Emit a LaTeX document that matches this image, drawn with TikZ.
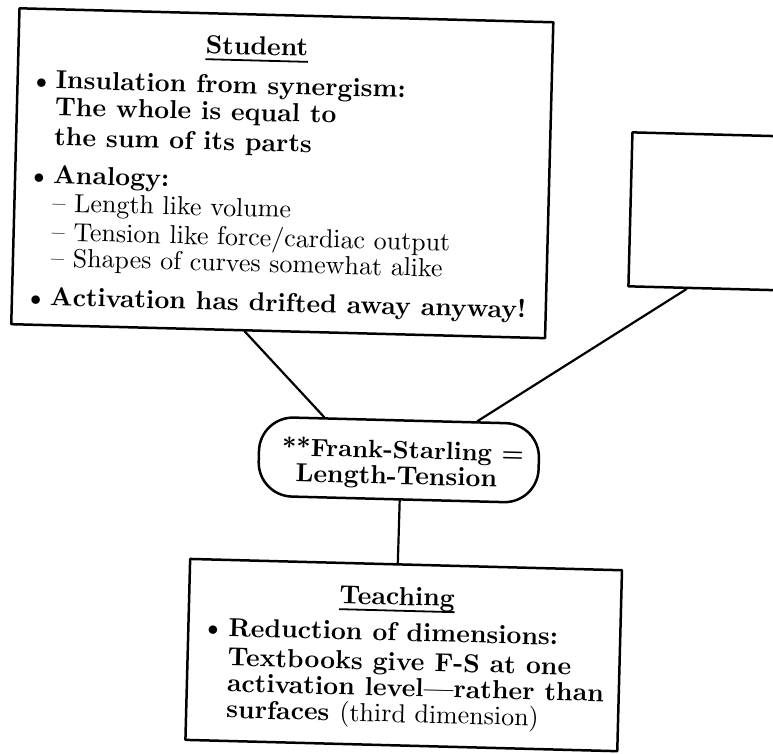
\documentclass[tikz,border=0pt]{standalone}
\usetikzlibrary{calc}

% text faces at the 10pt design size, scaled up
\font\bxfont=cmbx10 at 26pt
\font\bxfontsm=cmbx10 at 25pt
\font\rmfont=cmr10 at 26pt
\font\syfont=cmsy10 at 22pt
\newcommand\itemdot{{\syfont\char"0F}}

% heading with a rule set a fixed distance under the baseline
\newcommand\titleul[1]{\setbox0\hbox{#1}\rlap{\rule[-6.5pt]{\wd0}{1.8pt}}\box0}

\tikzset{
  box/.style={draw, line width=2.5pt, inner sep=0pt},
  link/.style={line width=2.2pt},
  btxt/.style={inner sep=0pt, font=\bxfont},
  rtxt/.style={inner sep=0pt, font=\rmfont},
  bul/.style={inner sep=0pt, anchor=base},
}

\begin{document}
\begin{tikzpicture}[x=1pt, y=-1pt, line join=round, line cap=round]
\useasboundingbox (0,0) rectangle (773,753);
\clip (0,0) rectangle (773,753);
\begin{scope}[rotate around={-1.5:(386,376)}, transform shape]

  % frames
  \node[box, minimum width=534pt, minimum height=316pt] (stu) at (277,176) {};
  \node[box, minimum width=274pt, minimum height=154pt] (aux) at (763,203) {};
  \node[box, rounded corners=34pt, minimum width=280pt, minimum height=79pt] (fs) at (401,459.5) {};
  \node[box, minimum width=432pt, minimum height=181pt] (teach) at (411,654.5) {};

  % student box text
  \node[btxt, anchor=base] (sttl) at (248.5,58.4) {\titleul{Student}};
  \node[bul] (sb1) at (34,97.4) {\itemdot};
  \node[btxt, anchor=base west] (s1) at (48,97.4) {Insulation from synergism:};
  \node[btxt, anchor=base west] (s2) at (48,124.4) {The whole is equal to};
  \node[btxt, anchor=base west] (s3) at (48,154.4) {the sum of its parts};
  \node[bul] (sb2) at (34,192.4) {\itemdot};
  \node[btxt, anchor=base west] (s4) at (48,192.4) {Analogy:};
  \node[rtxt, anchor=base west] (s5) at (48,220.4) {-- Length like volume};
  \node[rtxt, anchor=base west] (s6) at (48,249.4) {-- Tension like force/cardiac output};
  \node[rtxt, anchor=base west] (s7) at (48,275.4) {-- Shapes of curves somewhat alike};
  \node[bul] (sb3) at (34,314.4) {\itemdot};
  \node[btxt, anchor=base west] (s8) at (48,314.4) {Activation has drifted away anyway!};

  % central statement
  \node[btxt, font=\bxfontsm, anchor=base] (f1) at (405,458) {**Frank-Starling =};
  \node[btxt, anchor=base] (f2) at (399,484) {Length-Tension};

  % teaching box text
  \node[btxt, anchor=base] (tttl) at (403,604.7) {\titleul{Teaching}};
  \node[bul] (tb) at (219.7,640.5) {\itemdot};
  \node[btxt, anchor=base west] (t1) at (235,640.5) {Reduction of dimensions:};
  \node[btxt, anchor=base west] (t2) at (235,670) {Textbooks give F-S at one};
  \node[btxt, anchor=base west] (t3) at (235,696) {activation level---rather than};
  \node[btxt, anchor=base west] (t4) at (235,722) {surfaces {\rmfont(third dimension)}};

  % connectors
  \draw[link] ($(stu.south west)!0.438!(stu.south east)$) -- ($(fs.north west)!0.232!(fs.north east)$);
  \draw[link] ($(aux.south west)!0.215!(aux.south east)$) -- ($(fs.north west)!0.775!(fs.north east)$);
  \draw[link] ($(fs.south west)!0.507!(fs.south east)$) -- ($(teach.north west)!0.481!(teach.north east)$);
\end{scope}
\end{tikzpicture}
\end{document}
